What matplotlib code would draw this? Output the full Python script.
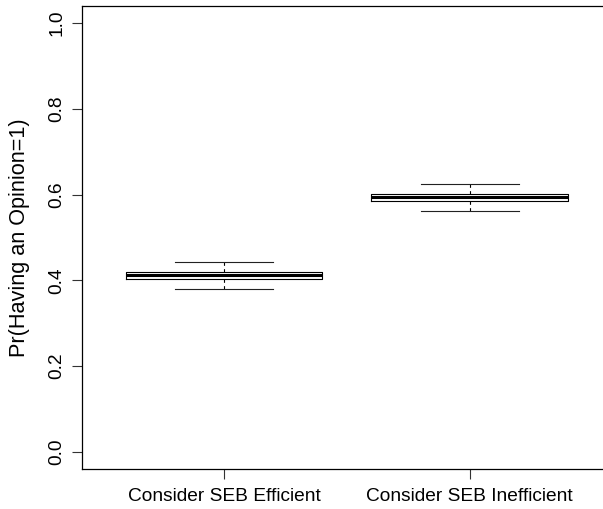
import matplotlib
matplotlib.use("Agg")
import matplotlib.pyplot as plt

categories = ["Consider SEB Efficient", "Consider SEB Inefficient"]
whisker_low = [0.380, 0.5625]
q1 = [0.403, 0.586]
median = [0.4126, 0.594]
q3 = [0.420, 0.601]
whisker_high = [0.4436, 0.625]
y_ticks = [0.0, 0.2, 0.4, 0.6, 0.8, 1.0]
y_label = "Pr(Having an Opinion=1)"

plt.rcParams['font.family'] = ['Liberation Sans', 'DejaVu Sans']

fig = plt.figure(figsize=(6.03, 5.09), dpi=100)
ax = fig.add_axes([81.7 / 603, 40 / 509, (612 - 81.7) / 603, (469 - 6) / 509])

stats = []
for i in range(len(categories)):
    stats.append(dict(med=median[i], q1=q1[i], q3=q3[i],
                      whislo=whisker_low[i], whishi=whisker_high[i],
                      fliers=[], label=categories[i]))

ax.bxp(stats, positions=[1, 2], widths=0.8, showfliers=False,
       boxprops=dict(color='black', linewidth=0.8),
       medianprops=dict(color='black', linewidth=2.2, solid_capstyle='butt'),
       whiskerprops=dict(color='black', linewidth=0.8, linestyle=(0, (3, 3))),
       capprops=dict(color='#222222', linewidth=0.8),
       capwidths=0.4)

fs = 13.8
ax.set_xlim(0.42, 2.58)
ax.set_ylim(-0.04, 1.04)
ax.set_yticks(y_ticks)
ax.set_yticklabels([f"{v:.1f}" for v in y_ticks], rotation=90, va='center', fontsize=fs)
ax.set_xticks([1, 2])
ax.set_xticklabels(categories, fontsize=fs)
ax.tick_params(axis='both', length=7, width=0.8, color='#333333')
ax.tick_params(axis='y', pad=5)
ax.tick_params(axis='x', pad=7)
ax.set_ylabel(y_label, fontsize=15.6, labelpad=13)
for s in ax.spines.values():
    s.set_linewidth(0.9)

fig.savefig("out.png", dpi=100)
